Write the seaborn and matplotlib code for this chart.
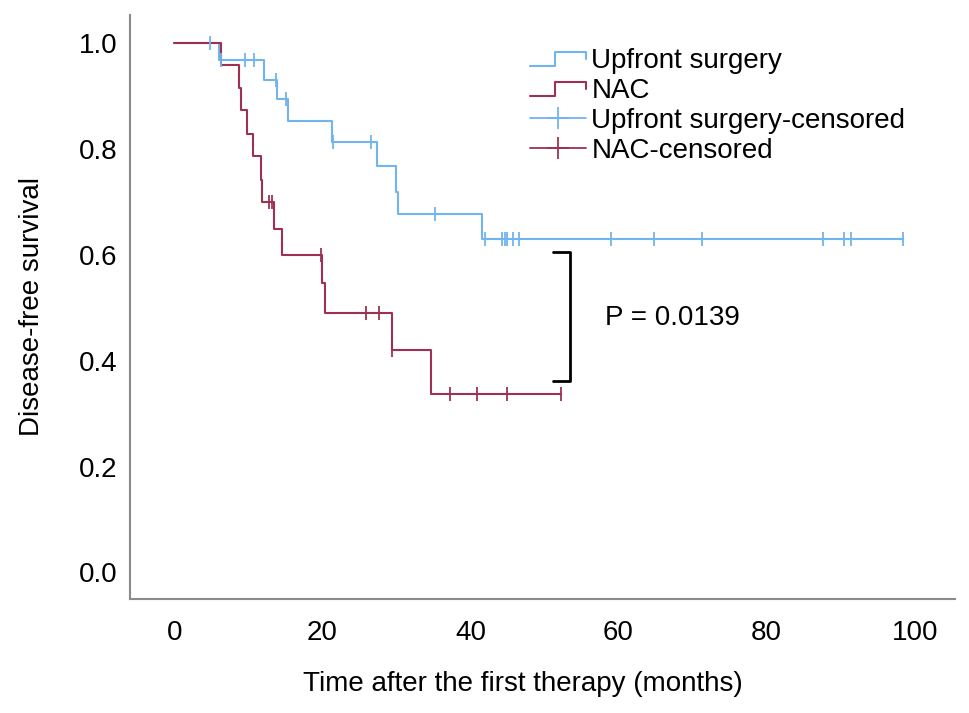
import numpy as np
import pandas as pd
import matplotlib
matplotlib.use('Agg')
import matplotlib.pyplot as plt
import seaborn as sns
from matplotlib.lines import Line2D
from matplotlib.legend_handler import HandlerBase


# ── Data ─────────────────────────────────────────────────────────────────────
# Upfront surgery: event times (months) and survival after each event
up_event_t = [6.1, 12.1, 13.9, 15.3, 21.3, 27.4, 30.0, 30.2, 41.5]
up_surv    = [0.968, 0.931, 0.894, 0.853, 0.813, 0.767, 0.719, 0.678, 0.629]
up_cens_t  = [4.8, 6.3, 9.6, 10.8, 13.8, 15.1, 21.4, 26.6, 35.2,
              41.9, 44.3, 44.6, 44.9, 45.7, 46.6,
              59.0, 64.8, 71.3, 87.6, 90.4, 91.4, 98.4]
up_end_t   = 98.4

# NAC
nac_event_t = [6.35, 8.8, 9.0, 9.8, 10.6, 11.7, 11.8, 13.5, 14.5,
               19.9, 20.3, 29.4, 34.7]
nac_surv    = [0.958, 0.915, 0.873, 0.829, 0.786, 0.742, 0.699, 0.648, 0.600,
               0.546, 0.491, 0.421, 0.338]
nac_cens_t  = [12.8, 13.2, 19.8, 25.9, 27.7, 29.4, 37.3, 40.9, 45.0, 52.2]
nac_end_t   = 52.2

LABELS = ['Upfront surgery', 'NAC', 'Upfront surgery-censored', 'NAC-censored']
X_TICKS = [0, 20, 40, 60, 80, 100]
Y_TICKS = [0.0, 0.2, 0.4, 0.6, 0.8, 1.0]

# significance bracket + p value
bracket_x      = 53.5
bracket_arm    = 2.4
bracket_top    = 0.605
bracket_bottom = 0.361
p_text         = 'P = 0.0139'
p_x, p_y       = 58.2, 0.48

BLUE = '#72b4ee'
RED  = '#9e3152'
FS   = 20


def km_frame(event_t, surv, end_t):
    t = [0.0] + list(event_t) + [end_t]
    s = [1.0] + list(surv) + [surv[-1]]
    return pd.DataFrame({'t': t, 's': s})


def censor_frame(event_t, surv, cens_t):
    levels = np.array([1.0] + list(surv))
    idx = np.searchsorted(np.array(event_t), np.array(cens_t), side='right')
    return pd.DataFrame({'t': cens_t, 's': levels[idx]})


class StepHandler(HandlerBase):
    """Legend glyph shaped like a small KM step."""
    def create_artists(self, legend, orig_handle, xdescent, ydescent,
                       width, height, fontsize, trans):
        xs = np.array([0.0, 0.45, 0.45, 1.0, 1.0]) * width - xdescent
        ys = np.array([0.1, 0.1, 0.8, 0.8, 0.45]) * height - ydescent
        line = Line2D(xs, ys, color=orig_handle.get_color(),
                      lw=orig_handle.get_linewidth())
        line.set_transform(trans)
        return [line]


# ── Plot ─────────────────────────────────────────────────────────────────────
sns.set_theme(style='white')
plt.rcParams['font.family'] = ['Liberation Sans', 'DejaVu Sans']
plt.rcParams['text.color'] = 'black'
plt.rcParams['axes.labelcolor'] = 'black'
plt.rcParams['xtick.color'] = 'black'
plt.rcParams['ytick.color'] = 'black'

fig = plt.figure(figsize=(9.69, 7.13), dpi=100)
ax = fig.add_axes([0.134, 0.16, 0.852, 0.819])

up_km, nac_km = km_frame(up_event_t, up_surv, up_end_t), km_frame(nac_event_t, nac_surv, nac_end_t)
up_c, nac_c = censor_frame(up_event_t, up_surv, up_cens_t), censor_frame(nac_event_t, nac_surv, nac_cens_t)

sns.lineplot(data=up_km, x='t', y='s', drawstyle='steps-post', color=BLUE,
             lw=1.5, estimator=None, ax=ax, legend=False)
sns.lineplot(data=nac_km, x='t', y='s', drawstyle='steps-post', color=RED,
             lw=1.5, estimator=None, ax=ax, legend=False)
sns.scatterplot(data=up_c, x='t', y='s', marker='|', s=90, linewidth=1.3,
                color=BLUE, ax=ax, legend=False, zorder=3)
sns.scatterplot(data=nac_c, x='t', y='s', marker='|', s=90, linewidth=1.3,
                color=RED, ax=ax, legend=False, zorder=3)

# bracket and p value
ax.plot([bracket_x - bracket_arm, bracket_x, bracket_x, bracket_x - bracket_arm],
        [bracket_top, bracket_top, bracket_bottom, bracket_bottom],
        color='black', lw=2, solid_joinstyle='round')
ax.text(p_x, p_y, p_text, fontsize=FS, va='center', ha='left')

ax.set_xlim(-6, 105.5)
ax.set_ylim(-0.05, 1.053)
ax.set_xticks(X_TICKS)
ax.set_yticks(Y_TICKS)
ax.set_yticklabels([f'{v:.1f}' for v in Y_TICKS])
ax.tick_params(axis='x', labelsize=FS, pad=15, length=0)
ax.tick_params(axis='y', labelsize=FS, pad=9, length=0)
ax.set_xlabel('Time after the first therapy (months)', fontsize=FS, labelpad=18)
ax.xaxis.label.set_x(0.476)
ax.set_ylabel('Disease-free survival', fontsize=FS, labelpad=24)

for side in ('top', 'right'):
    ax.spines[side].set_visible(False)
for side in ('left', 'bottom'):
    ax.spines[side].set_color('#8a8a8a')
    ax.spines[side].set_linewidth(1.5)

h_up  = Line2D([], [], color=BLUE, lw=1.5)
h_nac = Line2D([], [], color=RED, lw=1.5)
h_upc = Line2D([], [], color=BLUE, lw=1.3, marker='+', markersize=16, markeredgewidth=1.3)
h_nacc = Line2D([], [], color=RED, lw=1.3, marker='+', markersize=16, markeredgewidth=1.3)
ax.legend([h_up, h_nac, h_upc, h_nacc], LABELS,
          handler_map={h_up: StepHandler(), h_nac: StepHandler()},
          loc='upper left', bbox_to_anchor=(0.485, 0.944), frameon=False,
          fontsize=FS, borderpad=0, borderaxespad=0, handlelength=2.0,
          handletextpad=0.2, labelspacing=0.15)

plt.savefig('out.png', dpi=100)
plt.close()
